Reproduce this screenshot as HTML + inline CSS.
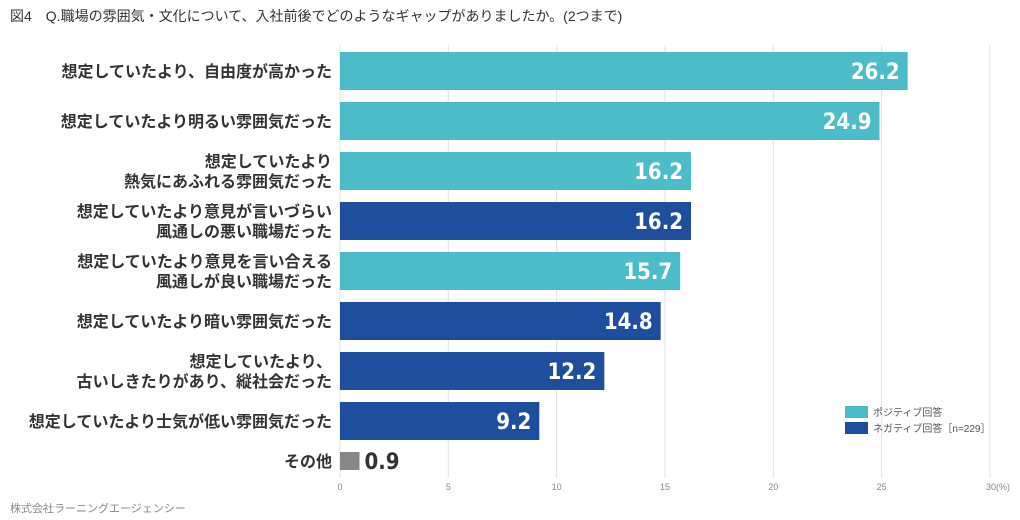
<!DOCTYPE html>
<html><head><meta charset="utf-8"><style>
body{margin:0;background:#fff;font-family:"Liberation Sans","Noto Sans CJK JP",sans-serif;}
#c{position:relative;width:1020px;height:520px;overflow:hidden}
</style></head><body>
<div id="c">
<svg id="s" width="1020" height="520" xmlns="http://www.w3.org/2000/svg">
<text x="10" y="21" font-size="14" fill="#333" font-family="Liberation Sans, Noto Sans CJK JP, sans-serif">図4　Q.職場の雰囲気・文化について、入社前後でどのようなギャップがありましたか。(2つまで)</text>
<text x="10" y="512" font-size="11" fill="#888" font-family="Liberation Sans, Noto Sans CJK JP, sans-serif">株式会社ラーニングエージェンシー</text>
<g id="grid"></g><g id="bars"></g>
<g>
<rect x="845" y="406" width="23" height="12" fill="#4bbcc8"/>
<text x="873" y="416" font-size="10" fill="#555" font-family="Liberation Sans, Noto Sans CJK JP, sans-serif">ポジティブ回答</text>
<rect x="845" y="422" width="23" height="12" fill="#1f4e9f"/>
<text x="873" y="432" font-size="10" fill="#555" font-family="Liberation Sans, Noto Sans CJK JP, sans-serif">ネガティブ回答［n=229］</text>
</g>
</svg></div>
<script>
const categories=[["想定していたより、自由度が高かった"],["想定していたより明るい雰囲気だった"],["想定していたより","熱気にあふれる雰囲気だった"],["想定していたより意見が言いづらい","風通しの悪い職場だった"],["想定していたより意見を言い合える","風通しが良い職場だった"],["想定していたより暗い雰囲気だった"],["想定していたより、","古いしきたりがあり、縦社会だった"],["想定していたより士気が低い雰囲気だった"],["その他"]];
const values=[26.2,24.9,16.2,16.2,15.7,14.8,12.2,9.2,0.9];
const types=["pos","pos","pos","neg","pos","neg","neg","neg","other"];
const ticks=[0,5,10,15,20,25,30];
const NS="http://www.w3.org/2000/svg";
const x0=340,x1=990,xmax=30;
const xs=v=>x0+(x1-x0)*v/xmax;
const yc=i=>i<8?71+50*i:461;
const colors={pos:"#4bbcc8",neg:"#1f4e9f",other:"#888888"};
const F="Liberation Sans, Noto Sans CJK JP, sans-serif";
function mk(t,a,p){const e=document.createElementNS(NS,t);for(const k in a)e.setAttribute(k,a[k]);p.appendChild(e);return e;}
const g=document.getElementById('grid'),b=document.getElementById('bars');
ticks.forEach(t=>{
 const l=mk('line',{x1:xs(t),x2:xs(t),y1:45,y2:478,stroke:"#e2e2e2","stroke-width":1},g);
 
 
 const tx=mk('text',{x:xs(t),y:490,"font-size":9,fill:"#888","text-anchor":"middle","font-family":F},g);
 tx.textContent=t===30?"30(%)":t;
 if(t===30){tx.setAttribute('text-anchor','start');tx.setAttribute('x',xs(t)-4);}
 
 
});
values.forEach((v,i)=>{
 const h=i<8?38:18,y=yc(i);
 const r=mk('rect',{x:x0,y:y-h/2,width:xs(v)-x0,height:h,fill:colors[types[i]]},b);
 
 
 const lab=mk('text',{"font-size":16,"font-weight":"bold",fill:"#333","text-anchor":"end","font-family":F},b);
 
 
 const lines=categories[i];
 lines.forEach((s,j)=>{const ts=mk('tspan',{x:332,y:y+6+(j-(lines.length-1)/2)*20},lab);ts.textContent=s;});
 const inside=i<8;
 const vt=mk('text',{x:inside?xs(v)-8:xs(v)+5,y:y+8,"font-size":22,"font-weight":"bold",fill:inside?"#fff":"#333","text-anchor":inside?"end":"start","font-family":"DejaVu Sans Condensed, Liberation Sans Narrow, sans-serif"},b);
 vt.textContent=v.toFixed(1);
 
 
});
</script></body></html>
